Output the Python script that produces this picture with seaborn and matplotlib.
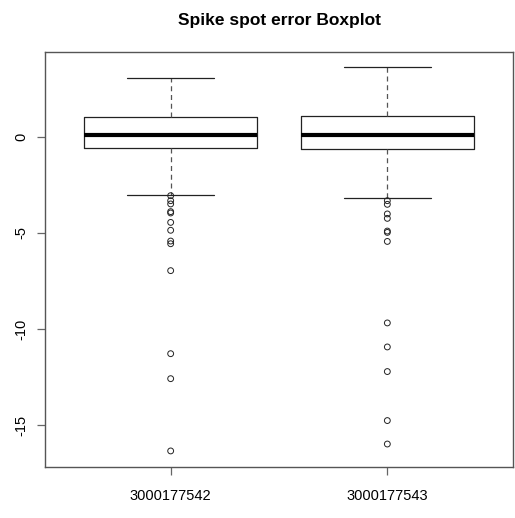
import numpy as np
import pandas as pd
import matplotlib
matplotlib.use("Agg")
import matplotlib.pyplot as plt
import seaborn as sns

# Spike spot IDs
spots = ["3000177542", "3000177543"]

# Five-number summaries (lower whisker, lower hinge, median, upper hinge, upper whisker)
summary_542 = [-3.02, -0.61, 0.10, 1.04, 3.04]
summary_543 = [-3.21, -0.62, 0.10, 1.07, 3.64]

# Points beyond the whiskers
outliers_542 = [-3.07, -3.33, -3.50, -3.90, -3.97, -4.46, -4.87, -5.43, -5.57,
                -6.97, -11.29, -12.59, -16.35]
outliers_543 = [-3.33, -3.52, -4.02, -4.25, -4.91, -4.98, -5.45,
                -9.69, -10.94, -12.22, -14.77, -15.99]

yticks = [0, -5, -10, -15]

box_df = pd.DataFrame({
    "spot": [spots[0]] * len(summary_542) + [spots[1]] * len(summary_543),
    "error": summary_542 + summary_543,
})
out_df = pd.DataFrame({
    "spot": [spots[0]] * len(outliers_542) + [spots[1]] * len(outliers_543),
    "error": outliers_542 + outliers_543,
})

sns.set_style("white")
plt.rcParams["font.family"] = ["Liberation Sans", "DejaVu Sans"]
plt.rcParams["text.color"] = "black"
plt.rcParams["xtick.labelcolor"] = "black"
plt.rcParams["ytick.labelcolor"] = "black"

fig = plt.figure(figsize=(5.15, 5.18), dpi=100)
ax = fig.add_axes([45 / 515, 1 - 466.7 / 518, (513 - 45) / 515, (466.7 - 52) / 518])

sns.boxplot(
    data=box_df, x="spot", y="error", order=spots, ax=ax,
    width=0.8, whis=(0, 100), fill=False, showfliers=False,
    color="#222222", linecolor="#222222", linewidth=0.9,
    boxprops={"color": "#222222"},
    medianprops={"linewidth": 3.0, "color": "black"},
    whiskerprops={"linestyle": (0, (4, 3)), "color": "#555555", "linewidth": 0.9},
    capprops={"color": "#222222", "linewidth": 0.9},
)

sns.stripplot(
    data=out_df, x="spot", y="error", order=spots, ax=ax,
    jitter=False, marker="o", size=4.2, facecolors="none",
    edgecolor="#222222", linewidth=0.7, color="none", zorder=3,
)

ax.set_xlim(-0.58, 1.58)
ax.set_ylim(-17.17, 4.405)
ax.set_yticks(yticks)
ax.set_yticklabels([str(t) for t in yticks], rotation=90, va="center")
ax.set_xlabel("")
ax.set_ylabel("")

for s in ax.spines.values():
    s.set_visible(True)
    s.set_color("#555555")
    s.set_linewidth(1.0)

ax.tick_params(axis="both", which="major", direction="out", length=6,
               width=0.9, color="#666666", labelsize=10.5, pad=6,
               bottom=True, left=True)
ax.tick_params(axis="x", pad=10)

fig.text(279 / 515, 1 - 20 / 518, "Spike spot error Boxplot",
         ha="center", va="center", fontsize=12.5, fontweight="bold")

fig.savefig("out.png", dpi=100)
